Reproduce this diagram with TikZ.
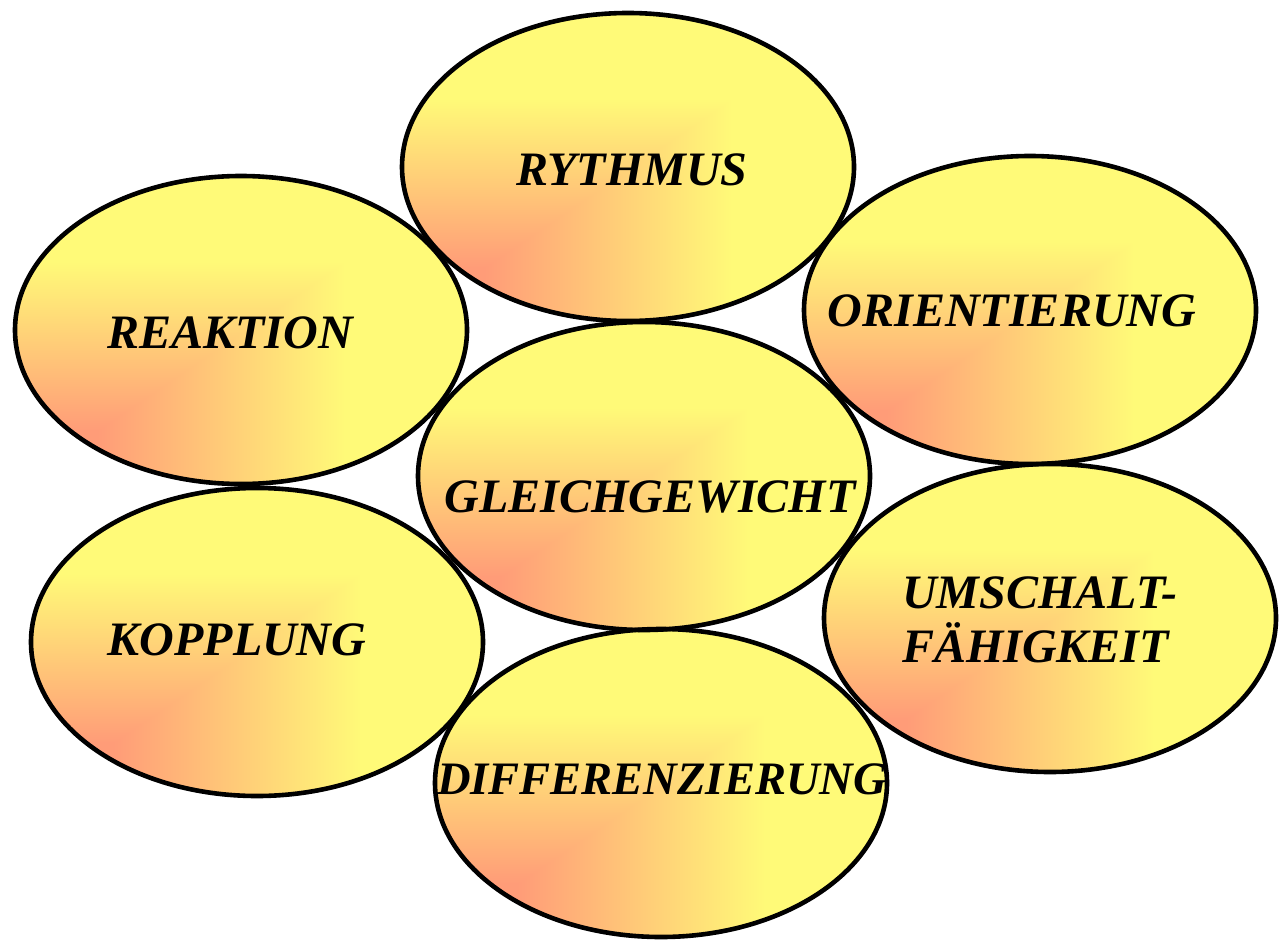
\documentclass[tikz,border=0pt]{standalone}
\usepackage{fontspec}
\setmainfont{Liberation Serif}
\pgfdeclarefunctionalshading{ovalshade}{\pgfpoint{-50bp}{-50bp}}{\pgfpoint{50bp}{50bp}}{}{
 16.5 add 27.5 div exch 16 add 27.5 div
 2 copy lt {exch} if pop
 dup 0 lt {pop 0} if dup 1 gt {pop 1} if
 0.37 mul 0.61 add
 1 exch 0.47
}
\definecolor{lensolive}{RGB}{125,118,10}
\tikzset{
  ovalfill/.style={shading=ovalshade},
  ovaledge/.style={draw=black,line width=4.6pt},
  label/.style={font=\fontsize{48}{54}\selectfont\bfseries\itshape,inner sep=0pt,text=black}
}
\newcommand{\ovalpath}[1]{(#1) ellipse [x radius=226pt, y radius=154pt]}
\begin{document}
\begin{tikzpicture}[x=1pt,y=-1pt]
\useasboundingbox (0,0) rectangle (1282,942);
\coordinate (cR) at (628,167);
\coordinate (cRe) at (241,330);
\coordinate (cO) at (1030,310);
\coordinate (cG) at (644,476);
\coordinate (cK) at (257,642);
\coordinate (cU) at (1050,618);
\coordinate (cD) at (661,783);
% fills
\foreach \c in {cR,cRe,cO,cG,cK,cU,cD}{
  \path[ovalfill] \ovalpath{\c};
}
% overlap lenses
\foreach \a/\b in {cR/cO,cR/cG,cO/cU,cG/cD,cRe/cK,cK/cD,cRe/cG,cG/cO,cG/cU,cK/cG}{
  \begin{scope}
    \clip \ovalpath{\a};
    \fill[lensolive] \ovalpath{\b};
  \end{scope}
}
% outlines
\foreach \c in {cR,cRe,cO,cG,cK,cU,cD}{
  \draw[ovaledge] \ovalpath{\c};
}
% labels
\node[label] (tR) at (632,170) {RYTHMUS};
\node[label] (tRe) at (230,333) {REAKTION};
\node[label] (tO) at (1012,311) {ORIENTIERUNG};
\node[label] (tG) at (650,497) {GLEICHGEWICHT};
\node[label] (tK) at (237,640) {KOPPLUNG};
\node[label,align=left,anchor=west] (tU) at (902,620) {UMSCHALT-\\FÄHIGKEIT};
\node[label,font=\fontsize{46.5}{54}\selectfont\bfseries\itshape] (tD) at (662,779) {DIFFERENZIERUNG};
\end{tikzpicture}
\end{document}
